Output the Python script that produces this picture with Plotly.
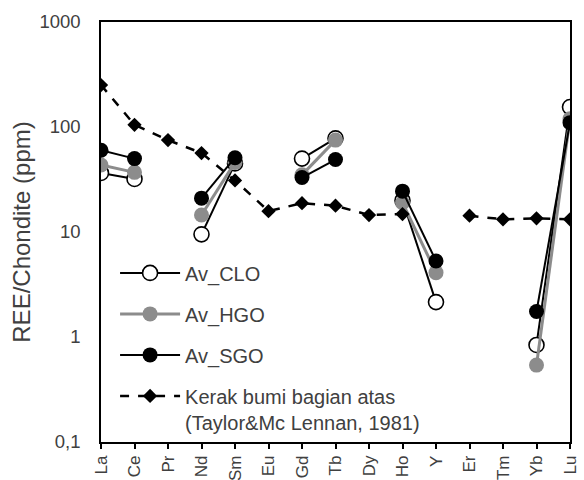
import plotly.graph_objects as go

elements = ["La", "Ce", "Pr", "Nd", "Sm", "Eu", "Gd", "Tb", "Dy", "Ho", "Y", "Er", "Tm", "Yb", "Lu"]
av_clo = [36.5, 32, None, 9.5, 45, None, 50, 78, None, 20, 2.15, None, None, 0.84, 155]
av_hgo = [43.5, 37, None, 14.5, 46, None, 35, 75, None, 19, 4.1, None, None, 0.54, 120]
av_sgo = [60, 50, None, 21, 51, None, 33, 49, None, 24.5, 5.3, None, None, 1.75, 110]
kerak = [251, 105, 75, 56.5, 31, 15.8, 18.8, 17.8, 14.5, 14.8, None, 14.3, 13.2, 13.5, 13.2]

y_tickvals = [0.1, 1, 10, 100, 1000]
y_ticktext = ["0,1", "1", "10", "100", "1000"]

fig = go.Figure()
fig.add_trace(go.Scatter(
    x=elements, y=av_clo, name="Av_CLO", mode="lines+markers", legendgroup="a",
    line=dict(color="black", width=2),
    marker=dict(symbol="circle", size=15, color="white", line=dict(color="black", width=1.6)),
))
fig.add_trace(go.Scatter(
    x=elements, y=av_hgo, name="Av_HGO", mode="lines+markers", legendgroup="b",
    line=dict(color="#8c8c8c", width=3),
    marker=dict(symbol="circle", size=15, color="#8c8c8c"),
))
fig.add_trace(go.Scatter(
    x=elements, y=av_sgo, name="Av_SGO", mode="lines+markers", legendgroup="c",
    line=dict(color="black", width=2),
    marker=dict(symbol="circle", size=15, color="black"),
))
fig.add_trace(go.Scatter(
    x=elements, y=kerak, name="Kerak bumi bagian atas<br>(Taylor&Mc Lennan, 1981)",
    mode="lines+markers", legendgroup="d",
    line=dict(color="black", width=2.5, dash="dash"),
    marker=dict(symbol="diamond", size=11, color="black"),
))

fig.update_layout(
    width=584, height=480,
    margin=dict(l=101, r=14, t=22, b=38),
    plot_bgcolor="white", paper_bgcolor="white",
    font=dict(family="Liberation Sans, Arial, sans-serif", color="#404040", size=18),
    showlegend=True,
    legend=dict(
        x=0.03, y=0.449, xanchor="left", yanchor="top", valign="top",
        bgcolor="rgba(0,0,0,0)", font=dict(size=20, color="#404040"),
        tracegroupgap=12, itemwidth=60,
    ),
    xaxis=dict(
        type="category", categoryorder="array", categoryarray=elements,
        range=[0, 14], showline=True, linecolor="black", linewidth=1.5, mirror=True,
        ticks="outside", ticklen=5, tickcolor="black", tickwidth=1.5, tickangle=-90,
        showgrid=False, zeroline=False, automargin=False,
        tickfont=dict(size=17, color="#404040"),
    ),
    yaxis=dict(
        type="log", range=[-1, 3], tickvals=y_tickvals, ticktext=y_ticktext,
        showline=True, linecolor="black", linewidth=1.5, mirror=True,
        ticks="outside", ticklen=15, tickcolor="rgba(0,0,0,0)",
        showgrid=False, zeroline=False, automargin=False,
        tickfont=dict(size=18.5, color="#404040"),
        title=dict(text="REE/Chondite (ppm)", font=dict(size=24, color="#404040"), standoff=2),
    ),
)

fig.write_html("out.html")
